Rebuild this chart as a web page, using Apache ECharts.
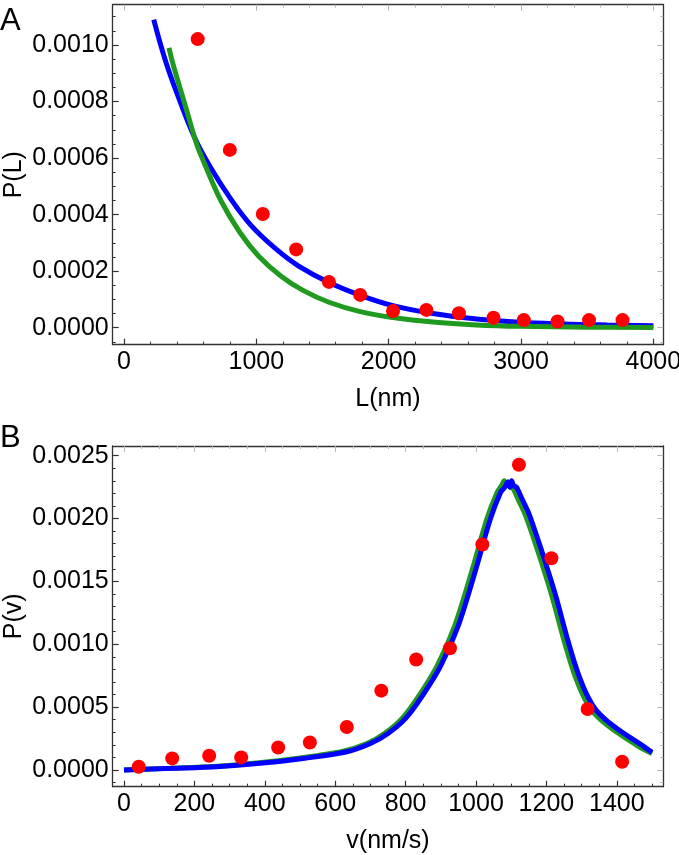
<!DOCTYPE html>
<html><head><meta charset="utf-8">
<script src="https://cdn.jsdelivr.net/npm/echarts@6/dist/echarts.min.js"></script>
<style>html,body{margin:0;padding:0;background:#fff}#c{width:679px;height:855px}</style>
</head><body><div id="c"></div>
<script>
// ---------- Panel A : length distribution ----------
const lenBins  = [557, 800, 1049, 1301, 1549, 1785, 2033, 2285, 2531, 2792, 3021, 3276, 3514, 3767];
const lenProb  = [0.001021, 0.000629, 0.000402, 0.000277, 0.000162, 0.000116, 0.000059, 0.000063, 0.000051, 0.000035, 0.000027, 0.000022, 0.000027, 0.000027];
const lenBlueL = [225, 310, 400, 536, 650, 800, 960, 1157, 1320, 1549, 1785, 2033, 2334, 2662, 2988, 3316, 3650, 4000];
const lenBlueP = [0.00109, 0.00095, 0.00083, 0.00067, 0.00057, 0.00046, 0.000362, 0.000275, 0.000218, 0.00016, 0.000115, 0.000078, 0.00005, 0.000031, 0.000019, 0.000013, 0.0000095, 0.000007];
const lenGreenL = [340, 372, 473, 549, 600, 732, 879, 1020, 1190, 1353, 1549, 1785, 2033, 2334, 2662, 2988, 3500, 4000];
const lenGreenP = [0.00099, 0.00093, 0.00077, 0.00065, 0.00059, 0.00045, 0.000335, 0.000252, 0.000181, 0.000132, 0.00009, 0.000057, 0.000036, 0.00002, 0.00001, 0.000005, 0.000002, 0.000001];
const lenXTicks = [0, 1000, 2000, 3000, 4000];
const lenYTicks = [0, 0.0002, 0.0004, 0.0006, 0.0008, 0.0010];

// ---------- Panel B : velocity distribution ----------
const velBins  = [42, 137, 242, 333, 438, 528, 633, 731, 830, 926, 1018, 1122, 1214, 1317, 1415];
const velProb  = [0.000026, 0.000092, 0.000113, 0.0001, 0.000179, 0.000218, 0.000342, 0.000631, 0.000879, 0.000968, 0.001794, 0.002428, 0.001684, 0.000485, 0.0000655];
const velBlueV = [0, 140, 263, 387, 510, 633, 700, 750, 800, 850, 900, 950, 1000, 1040, 1070, 1082, 1090, 1096, 1101, 1107, 1115, 1130, 1150, 1175, 1195, 1225, 1260, 1286, 1305, 1320, 1340, 1372, 1400, 1434, 1470, 1500];
const velBlueP = [0, 0.000013, 0.000026, 0.000053, 0.000092, 0.000145, 0.00021, 0.00029, 0.00041, 0.0006, 0.00083, 0.00115, 0.0016, 0.00199, 0.00221, 0.00225, 0.00229, 0.00225, 0.0023, 0.00226, 0.00225, 0.00216, 0.00204, 0.00184, 0.00167, 0.0014, 0.00104, 0.0008, 0.00066, 0.00057, 0.00048, 0.00039, 0.00033, 0.000265, 0.0002, 0.00014];
const velGreenV = [0, 130, 253, 377, 500, 623, 690, 740, 790, 840, 890, 940, 990, 1030, 1060, 1072, 1080, 1086, 1091, 1097, 1105, 1120, 1140, 1165, 1185, 1215, 1250, 1276, 1295, 1310, 1330, 1362, 1390, 1424, 1460, 1500];
const velGreenP = [0, 0.000014, 0.000028, 0.000056, 0.000096, 0.00015, 0.00021, 0.00029, 0.00041, 0.0006, 0.00083, 0.00115, 0.0016, 0.00199, 0.00221, 0.00226, 0.0023, 0.00226, 0.00229, 0.00225, 0.00224, 0.00215, 0.00203, 0.00183, 0.00166, 0.00139, 0.00103, 0.00079, 0.00065, 0.00056, 0.00047, 0.00038, 0.00032, 0.000255, 0.00019, 0.00013];
const velXTicks = [0, 200, 400, 600, 800, 1000, 1200, 1400];
const velYTicks = [0, 0.0005, 0.0010, 0.0015, 0.0020, 0.0025];

const FONT = 'Liberation Sans, Arial, sans-serif';
const FRAME = '#333';
const FAINT = '#b5b5b5';
const BLUE = '#0000ff', GREEN = '#1f9a1f', RED = '#ff0000';

function minors(lo, hi, step, majors) {
  const out = [];
  for (let k = Math.ceil(lo / step); k * step <= hi + 1e-12; k++) {
    const v = +(k * step).toPrecision(10);
    if (!majors.some(m => Math.abs(m - v) < step * 1e-3)) out.push(v);
  }
  return out;
}
function pairs(a, b) { return a.map((x, i) => [x, b[i]]); }

function axesFor(kind, grid, min, max, majors, minorStep, fmt, name, nameGap) {
  const isX = kind === 'x';
  const mn = minors(min, max, minorStep, majors);
  const base = { type: 'value', gridIndex: grid, min, max, splitLine: { show: false } };
  const main = Object.assign({}, base, {
    position: isX ? 'bottom' : 'left',
    axisLine: { show: true, onZero: false, lineStyle: { color: FRAME, width: 1.3 } },
    axisTick: { show: true, inside: true, length: 6, customValues: majors, lineStyle: { color: FRAME, width: 1.2 } },
    axisLabel: { show: true, customValues: majors, formatter: fmt, color: '#000', fontFamily: FONT, fontSize: 25, margin: isX ? 5 : 4 },
    name, nameLocation: 'middle', nameGap, nameMoveOverlap: false,
    nameTextStyle: { color: '#000', fontFamily: FONT, fontSize: 25 }
  });
  const mainMinor = Object.assign({}, base, {
    position: isX ? 'bottom' : 'left',
    axisLine: { show: false, onZero: false },
    axisTick: { show: true, inside: true, length: 3, customValues: mn, lineStyle: { color: FRAME, width: 1 } },
    axisLabel: { show: false }
  });
  const opp = Object.assign({}, base, {
    position: isX ? 'top' : 'right',
    axisLine: { show: true, onZero: false, lineStyle: { color: FRAME, width: 1.3 } },
    axisTick: { show: true, inside: true, length: 6, customValues: majors, lineStyle: { color: FAINT, width: 1 } },
    axisLabel: { show: false }
  });
  const oppMinor = Object.assign({}, base, {
    position: isX ? 'top' : 'right',
    axisLine: { show: false, onZero: false },
    axisTick: { show: true, inside: true, length: 3, customValues: mn, lineStyle: { color: FAINT, width: 1 } },
    axisLabel: { show: false }
  });
  return [main, mainMinor, opp, oppMinor];
}

const intFmt = v => String(Math.round(v));
const decFmt = v => Math.abs(v) < 1e-12 ? '0.0000' : v.toFixed(4);

const xAxis = [].concat(
  axesFor('x', 0, -85, 4075, lenXTicks, 200, intFmt, 'L(nm)', 42),
  axesFor('x', 1, -32, 1532, velXTicks, 50, intFmt, 'v(nm/s)', 42)
);
const yAxis = [].concat(
  axesFor('y', 0, -0.0000601, 0.0011426, lenYTicks, 0.00005, decFmt, 'P(L)', 86),
  axesFor('y', 1, -0.000133, 0.002577, velYTicks, 0.0001, decFmt, 'P(v)', 86)
);

const chart = echarts.init(document.getElementById('c'), null, { renderer: 'canvas' });
chart.setOption({
  animation: false,
  backgroundColor: '#fff',
  grid: [
    { left: 112.7, right: 15.7, top: 4.7, height: 340, containLabel: false, outerBoundsMode: 'none' },
    { left: 112.7, right: 15.7, top: 446, height: 340.7, containLabel: false, outerBoundsMode: 'none' }
  ],
  xAxis, yAxis,
  graphic: [
    { type: 'text', left: 0, top: 6, style: { text: 'A', font: '31px ' + FONT, fill: '#000' } },
    { type: 'text', left: 0, top: 423, style: { text: 'B', font: '31px ' + FONT, fill: '#000' } }
  ],
  series: [
    { type: 'line', xAxisIndex: 0, yAxisIndex: 0, data: pairs(lenBlueL, lenBlueP), smooth: 0.4, showSymbol: false, lineStyle: { color: BLUE, width: 5 }, z: 2 },
    { type: 'line', xAxisIndex: 0, yAxisIndex: 0, data: pairs(lenGreenL, lenGreenP), smooth: 0.4, showSymbol: false, lineStyle: { color: GREEN, width: 5 }, z: 3 },
    { type: 'scatter', xAxisIndex: 0, yAxisIndex: 0, data: pairs(lenBins, lenProb), symbolSize: 14, itemStyle: { color: RED, opacity: 1 }, z: 5 },
    { type: 'line', xAxisIndex: 4, yAxisIndex: 4, data: pairs(velGreenV, velGreenP), smooth: 0.3, showSymbol: false, lineStyle: { color: GREEN, width: 5 }, z: 2 },
    { type: 'line', xAxisIndex: 4, yAxisIndex: 4, data: pairs(velBlueV, velBlueP), smooth: 0.3, showSymbol: false, lineStyle: { color: BLUE, width: 5 }, z: 3 },
    { type: 'scatter', xAxisIndex: 4, yAxisIndex: 4, data: pairs(velBins, velProb), symbolSize: 14, itemStyle: { color: RED, opacity: 1 }, z: 5 }
  ]
});
</script></body></html>
